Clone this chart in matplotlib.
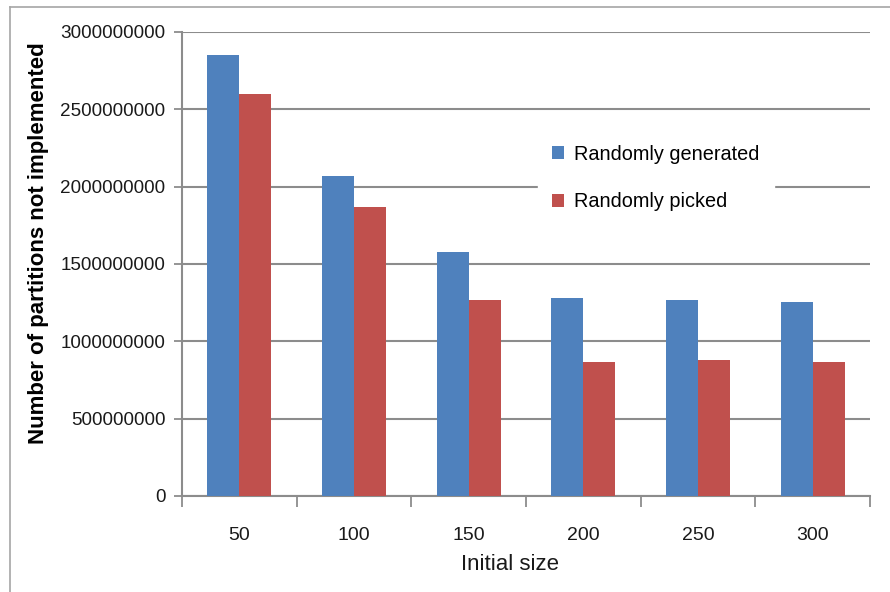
import matplotlib
matplotlib.use("Agg")
import matplotlib.pyplot as plt
import numpy as np
from matplotlib.lines import Line2D

plt.rcParams['font.family'] = ['Liberation Sans', 'DejaVu Sans']

sizes = ["50", "100", "150", "200", "250", "300"]
randomly_generated = [2.85e9, 2.07e9, 1.58e9, 1.28e9, 1.27e9, 1.255e9]
randomly_picked = [2.60e9, 1.87e9, 1.27e9, 0.865e9, 0.877e9, 0.865e9]
series_names = ["Randomly generated", "Randomly picked"]
y_ticks = [0, 500000000, 1000000000, 1500000000, 2000000000, 2500000000, 3000000000]

blue = "#4F81BD"
red = "#C0504D"
grid_col = "#8C8C8C"

fig = plt.figure(figsize=(8.9, 5.92), dpi=100)
W, H = 890, 592
ax = fig.add_axes([182 / W, 1 - 496 / H, (870 - 182) / W, (496 - 32) / H])

x = np.arange(len(sizes))
bw = 0.28
ax.bar(x - bw / 2, randomly_generated, bw, color=blue, label=series_names[0], zorder=3)
ax.bar(x + bw / 2, randomly_picked, bw, color=red, label=series_names[1], zorder=3)

ax.set_xlim(-0.5, len(sizes) - 0.5)
ax.set_ylim(0, 3e9)
ax.set_yticks(y_ticks)
ax.set_yticklabels([str(v) for v in y_ticks], fontsize=13.6, color="#1a1a1a")
ax.yaxis.grid(True, color=grid_col, linewidth=1.5, zorder=0)
ax.set_axisbelow(True)

# category labels centred, tick marks on category boundaries
ax.set_xticks(x)
ax.set_xticklabels(sizes, fontsize=14, color="#1a1a1a")
ax.tick_params(axis='x', which='major', length=0, pad=22)
ax.set_xticks(np.arange(len(sizes) + 1) - 0.5, minor=True)
ax.tick_params(axis='x', which='minor', length=8, width=1.3, color=grid_col)
ax.tick_params(axis='y', length=6, width=1.3, color=grid_col, pad=6)

for s in ("top", "right"):
    ax.spines[s].set_visible(False)
for s in ("left", "bottom"):
    ax.spines[s].set_color(grid_col)
    ax.spines[s].set_linewidth(1.5)

ax.set_xlabel("Initial size", fontsize=16, color="#1a1a1a")
ax.xaxis.set_label_coords((510 - 182) / 688, -0.125)
ax.set_ylabel("Number of partitions not implemented", fontsize=16, fontweight="bold", color="black")
ax.yaxis.set_label_coords(-0.193, 0.545)

leg = ax.legend(loc="center", bbox_to_anchor=((656 - 182) / 688, (496 - 178) / 464),
                frameon=True, fontsize=14.3, handlelength=0.6, handleheight=0.6,
                handletextpad=0.5, labelspacing=1.45, borderpad=0.7)
leg.get_frame().set_facecolor("white")
leg.get_frame().set_edgecolor("white")
leg.get_frame().set_alpha(1)
leg.set_zorder(5)

# thin frame around the chart area
fig.add_artist(Line2D([10 / W, 10 / W], [0, 1 - 7 / H], transform=fig.transFigure,
                      color="#A6A6A6", linewidth=1.2))
fig.add_artist(Line2D([10 / W, 1], [1 - 7 / H, 1 - 7 / H], transform=fig.transFigure,
                      color="#A6A6A6", linewidth=1.2))

fig.savefig("out.png", dpi=100)
